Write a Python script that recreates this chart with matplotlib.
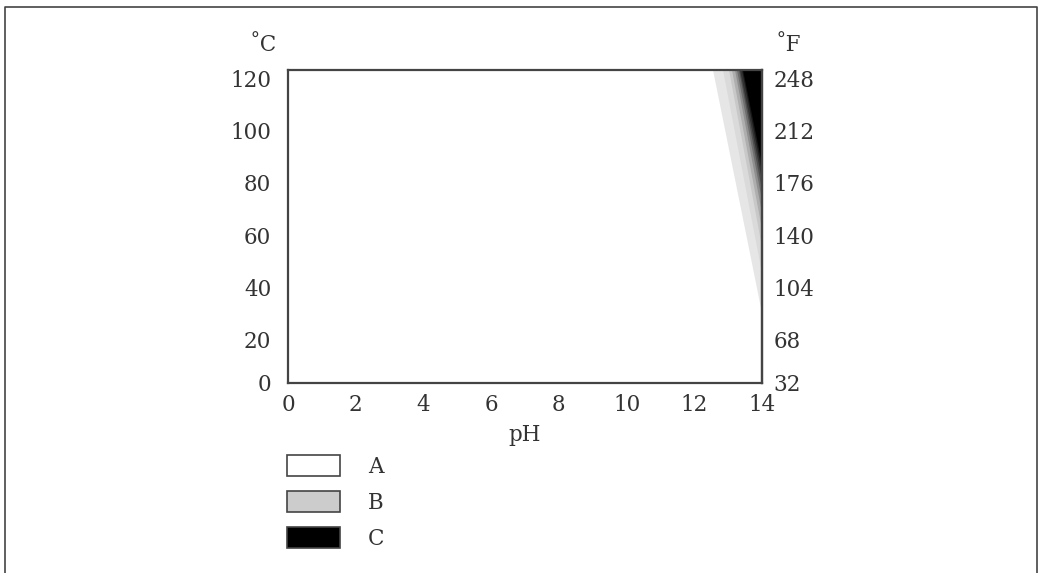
"""pH / temperature application range chart with shaded limit wedge."""
import matplotlib
matplotlib.use("Agg")
import matplotlib.pyplot as plt
from matplotlib.patches import Patch
from matplotlib.lines import Line2D

# axis ranges and tick labels
ph_ticks = [0, 2, 4, 6, 8, 10, 12, 14]
temp_c_ticks = [0, 20, 40, 60, 80, 100, 120]
temp_f_ticks = [32, 68, 104, 140, 176, 212, 248]

# shaded wedge: each band boundary runs from (ph_top, 120 degC) to (14, t_right)
band_ph_top = [12.55, 12.85, 13.02, 13.12, 13.20, 13.26, 13.31, 13.36, 13.40, 13.43]
band_t_right = [27, 42, 52, 59, 65, 70, 74, 78, 81, 84]
band_gray = ["#e6e6e6", "#dadada", "#c8c8c8", "#aeaeae", "#8f8f8f",
             "#6e6e6e", "#4e4e4e", "#323232", "#181818", "#000000"]

legend_labels = ["A", "B", "C"]
legend_colors = ["#ffffff", "#cccccc", "#000000"]

plt.rcParams["font.family"] = "DejaVu Serif"
plt.rcParams["font.size"] = 15.5
txt = "#333333"
edge = "#444444"

fig = plt.figure(figsize=(10.43, 5.73), dpi=100)
ax = fig.add_axes([0.2761, 0.3316, 0.4545, 0.5462])
ax.set_xlim(0, 14)
ax.set_ylim(0, 120)

for p, t, g in zip(band_ph_top, band_t_right, band_gray):
    ax.fill([p, 14, 14], [120, 120, t], color=g, lw=0, zorder=1)

for s in ax.spines.values():
    s.set_color(edge)
    s.set_linewidth(1.6)

ax.set_xticks(ph_ticks)
ax.set_yticks(temp_c_ticks)
ax.tick_params(length=0, colors=txt, labelsize=15.5)
ax.tick_params(axis="x", pad=8)
ax.tick_params(axis="y", pad=12)
ax.set_xlabel("pH", color=txt, labelpad=6)

ax2 = ax.twinx()
ax2.set_ylim(32, 248)
ax2.set_yticks(temp_f_ticks)
ax2.tick_params(length=0, colors=txt, labelsize=15.5, pad=8)
ax2.spines["right"].set_color(edge)
ax2.spines["right"].set_linewidth(1.6)
for s in ["left", "top", "bottom"]:
    ax2.spines[s].set_visible(False)

# labels sit just below their value, except the bottom one
for a in (ax, ax2):
    labels = a.get_yticklabels()
    for lbl in labels[1:]:
        lbl.set_va("top")

fig.text(0.252, 0.922, "˚C", ha="center", va="center", color=txt, fontsize=15.5)
fig.text(0.756, 0.922, "˚F", ha="center", va="center", color=txt, fontsize=15.5)

handles = [Patch(facecolor=c, edgecolor=edge, lw=1.2) for c in legend_colors]
fig.legend(handles, legend_labels, loc="upper left",
           bbox_to_anchor=(0.2565, 0.240), frameon=False,
           handlelength=2.45, handleheight=1.15, labelspacing=0.6,
           handletextpad=1.3, fontsize=15.5, labelcolor=txt)

# outer frame (open at the bottom)
fig.add_artist(Line2D([0.005, 0.005, 0.9945, 0.9945], [0.0, 0.988, 0.988, 0.0],
                      transform=fig.transFigure, color=edge, lw=1.2))

fig.savefig("out.png", dpi=100)
